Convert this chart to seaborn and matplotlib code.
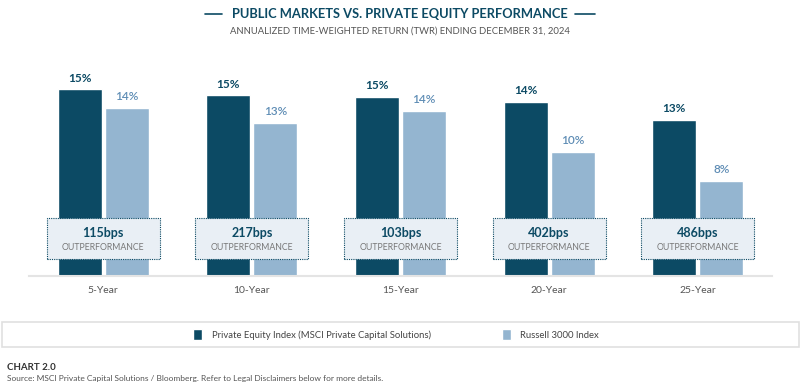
import matplotlib
matplotlib.use("Agg")
import matplotlib.pyplot as plt
import seaborn as sns
import pandas as pd
from matplotlib.patches import Rectangle
from matplotlib.lines import Line2D

# ---- data ----
periods = ["5-Year", "10-Year", "15-Year", "20-Year", "25-Year"]
series_names = ["Private Equity Index (MSCI Private Capital Solutions)", "Russell 3000 Index"]
private_equity = [15.3, 14.8, 14.7, 14.3, 12.8]
russell_3000 = [13.8, 12.55, 13.55, 10.2, 7.8]
outperformance_bps = [115, 217, 103, 402, 486]
title = "PUBLIC MARKETS VS. PRIVATE EQUITY PERFORMANCE"
subtitle = "ANNUALIZED TIME-WEIGHTED RETURN (TWR) ENDING DECEMBER 31, 2024"
chart_id = "CHART 2.0"
source = "Source: MSCI Private Capital Solutions / Bloomberg. Refer to Legal Disclaimers below for more details."

DARK = "#0c4a64"
LIGHT = "#94b5d0"
LIGHT_TXT = "#5f8db5"

df = pd.DataFrame({
    "period": periods * 2,
    "series": [series_names[0]] * 5 + [series_names[1]] * 5,
    "value": private_equity + russell_3000,
})

sns.set_theme(style="white")
plt.rcParams["font.family"] = ["Lato", "DejaVu Sans"]

W, H = 800, 389
fig = plt.figure(figsize=(8, 3.89), dpi=100)
# axes: x 29..772 px, baseline at 276 px, 12.2 px per unit
ymax = 17.0
ax_h = ymax * 12.2
ax = fig.add_axes([29 / W, (H - 276) / H, (772 - 29) / W, ax_h / H])

sns.barplot(data=df, x="period", y="value", hue="series", order=periods,
            hue_order=series_names, palette=[DARK, LIGHT], width=0.633, gap=0.065,
            saturation=1, ax=ax, legend=False)
ax.set_xlim(-0.5, 4.5)
ax.set_ylim(0, ymax)
for s in ["top", "right", "left"]:
    ax.spines[s].set_visible(False)
ax.spines["bottom"].set_color("#e4e4e4")
ax.spines["bottom"].set_linewidth(1.5)
ax.set_yticks([])
ax.set_xlabel("")
ax.set_ylabel("")
ax.tick_params(axis="x", length=0, pad=7, labelsize=7.5, labelcolor="#555555")

# value labels
for cont, col, wt in zip(ax.containers, [DARK, LIGHT_TXT], ["bold", "semibold"]):
    ax.bar_label(cont, labels=[f"{v:.0f}%" for v in cont.datavalues], padding=4,
                 color=col, fontsize=8.5, fontweight=wt)

# outperformance boxes
for i, bps in enumerate(outperformance_bps):
    rect = Rectangle((i - 0.38, 1.4), 0.76, 3.35, facecolor="#e9eff5", edgecolor=DARK,
                     linestyle=(0, (1, 1)), linewidth=0.8, zorder=5)
    ax.add_patch(rect)
    ax.text(i, 3.55, f"{bps}bps", ha="center", va="center", fontsize=9,
            fontweight="bold", color=DARK, zorder=6)
    ax.text(i, 2.3, "OUTPERFORMANCE", ha="center", va="center", fontsize=6.3,
            color="#777777", zorder=6)

# title & subtitle
fig.text(0.5, 1 - 14 / H, title, ha="center", va="center", fontsize=9.3,
         fontweight="bold", color=DARK)
fig.add_artist(Line2D([205 / W, 222 / W], [1 - 14 / H] * 2, color=DARK, lw=1.2))
fig.add_artist(Line2D([575 / W, 595 / W], [1 - 14 / H] * 2, color=DARK, lw=1.2))
fig.text(0.5, 1 - 31 / H, subtitle, ha="center", va="center", fontsize=6.8,
         color="#555555")

# legend box
fig.add_artist(Rectangle((2 / W, 1 - 347 / H), 797 / W, 25 / H, transform=fig.transFigure,
                         facecolor="white", edgecolor="#e0e0e0", linewidth=1.2))
handles = [Rectangle((0, 0), 1, 1, facecolor=DARK), Rectangle((0, 0), 1, 1, facecolor=LIGHT)]
fig.legend(handles, series_names, loc="center", bbox_to_anchor=(396 / W, 1 - 334.5 / H),
           ncol=2, frameon=False, fontsize=6.8, handlelength=1.0, handleheight=1.3,
           handletextpad=1.0, columnspacing=7.5, labelcolor="#444444")

# footer
fig.text(7 / W, 1 - 367 / H, chart_id, ha="left", va="center", fontsize=7,
         fontweight="bold", color="#333333")
fig.text(7 / W, 1 - 378 / H, source, ha="left", va="center", fontsize=6.0,
         color="#555555")

fig.savefig("out.png", dpi=100)
